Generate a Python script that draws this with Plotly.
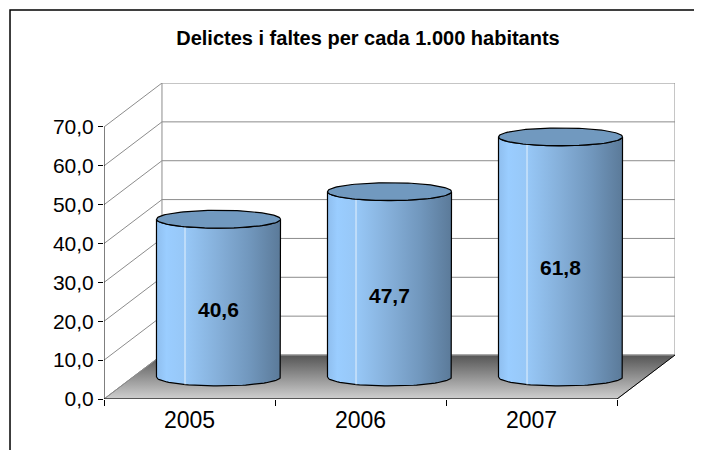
import numpy as np
import plotly.graph_objects as go

# data
years = ["2005", "2006", "2007"]
rates = [40.6, 47.7, 61.8]
y_ticks = [0, 10, 20, 30, 40, 50, 60, 70]
title = "Delictes i faltes per cada 1.000 habitants"

FONT = "Arial, Liberation Sans, sans-serif"

# fake 3d: depth of the box in axis units
DX = 0.339   # along x (category units)
DY = 11.32   # along y (value units)
R = 0.3626   # cylinder half width
E = 2.3      # ellipse half height
x0, x1 = -0.5, len(years) - 0.5
ymax = y_ticks[-1]

fig = go.Figure()

# floor with gradient
fig.add_trace(go.Scatter(
    x=[x0, x1, x1 + DX, x0 + DX, x0], y=[0, 0, DY, DY, 0],
    mode="lines", fill="toself", line=dict(color="#8a8a8a", width=1),
    fillgradient=dict(type="vertical", colorscale=[[0, "#cfcfcf"], [1, "#555555"]]),
    hoverinfo="skip", showlegend=False, cliponaxis=False))

# gridlines on side wall and back wall
for v in y_ticks:
    fig.add_trace(go.Scatter(
        x=[x0, x0 + DX, x1 + DX], y=[v, v + DY, v + DY],
        mode="lines", line=dict(color="#8c8c8c", width=1),
        hoverinfo="skip", showlegend=False, cliponaxis=False))
for xe in [x0 + DX, x1 + DX]:
    fig.add_trace(go.Scatter(
        x=[xe, xe], y=[DY, ymax + DY], mode="lines",
        line=dict(color="#8c8c8c", width=1),
        hoverinfo="skip", showlegend=False, cliponaxis=False))

# front edges
fig.add_trace(go.Scatter(
    x=[x0, x0, x1, x1 + DX], y=[ymax, 0, 0, DY], mode="lines",
    line=dict(color="black", width=1),
    hoverinfo="skip", showlegend=False, cliponaxis=False))

# cylinders
body_scale = [[0, "#8fbeee"], [0.08, "#9acdff"], [0.24, "#97c7f6"],
              [0.5, "#85afd9"], [0.75, "#7197bd"], [1, "#5b7a99"]]
t_front = np.linspace(np.pi, 2 * np.pi, 60)
t_full = np.linspace(0, 2 * np.pi, 120)
for i, v in enumerate(rates):
    cx = i + DX / 2
    base = DY / 2
    top = v + DY / 2
    xs = np.concatenate([[cx - R], cx + R * np.cos(t_front), [cx + R], cx + R * np.cos(t_front[::-1])])
    ys = np.concatenate([[base], top + E * np.sin(t_front), [base], base + E * np.sin(t_front[::-1])])
    xs = np.append(xs, xs[0])
    ys = np.append(ys, ys[0])
    fig.add_trace(go.Scatter(
        x=xs, y=ys, mode="lines", fill="toself",
        line=dict(color="black", width=1.2),
        fillgradient=dict(type="horizontal", colorscale=body_scale),
        hoverinfo="skip", showlegend=False, cliponaxis=False))
    # highlight stripe
    hx = cx - R + 0.23 * 2 * R
    ht = np.arccos((hx - cx) / R)
    fig.add_trace(go.Scatter(
        x=[hx, hx], y=[base - E * np.sin(ht), top - E * np.sin(ht)], mode="lines",
        line=dict(color="rgba(255,255,255,0.75)", width=1),
        hoverinfo="skip", showlegend=False, cliponaxis=False))
    # top ellipse
    fig.add_trace(go.Scatter(
        x=cx + R * np.cos(t_full), y=top + E * np.sin(t_full),
        mode="lines", fill="toself", fillcolor="#7199bf",
        line=dict(color="black", width=1.2),
        hoverinfo="skip", showlegend=False, cliponaxis=False))
    fig.add_annotation(
        x=cx, y=v / 2 + DY / 2, yshift=-11, text=f"<b>{v:.1f}</b>".replace(".", ","),
        showarrow=False, font=dict(family=FONT, size=21, color="black"))

# outer chart border
fig.add_shape(type="rect", xref="paper", yref="paper",
              x0=-0.1646, x1=1.2, y0=-0.3, y1=1.231,
              line=dict(color="black", width=1.5))

# page body adds an 8px offset, so the layout is shifted up/left by 8px
fig.update_layout(
    width=702, height=450,
    margin=dict(l=96, r=35, t=75, b=59),
    paper_bgcolor="white", plot_bgcolor="white",
    separators=",.",
    font=dict(family=FONT, size=21, color="black"),
    title=dict(text=f"<b>{title}</b>", x=360 / 702, xref="container", xanchor="center",
               y=1 - 30 / 450, yref="container", yanchor="middle",
               font=dict(family=FONT, size=20, color="black")),
    xaxis=dict(range=[x0, x1 + DX], tickvals=list(range(len(years))), ticktext=years,
               ticks="", showgrid=False, zeroline=False, showline=False,
               ticklabelstandoff=5, tickfont=dict(size=23),
               minor=dict(tickvals=[x0 + k for k in range(len(years) + 1)], ticks="outside",
                          ticklen=6, tickcolor="black", showgrid=False)),
    yaxis=dict(range=[0, ymax + DY], tickvals=y_ticks, tickformat=".1f",
               ticks="outside", ticklen=5, tickcolor="black", tickfont=dict(size=21),
               showgrid=False, zeroline=False, showline=False),
)

fig.write_html("out.html")
